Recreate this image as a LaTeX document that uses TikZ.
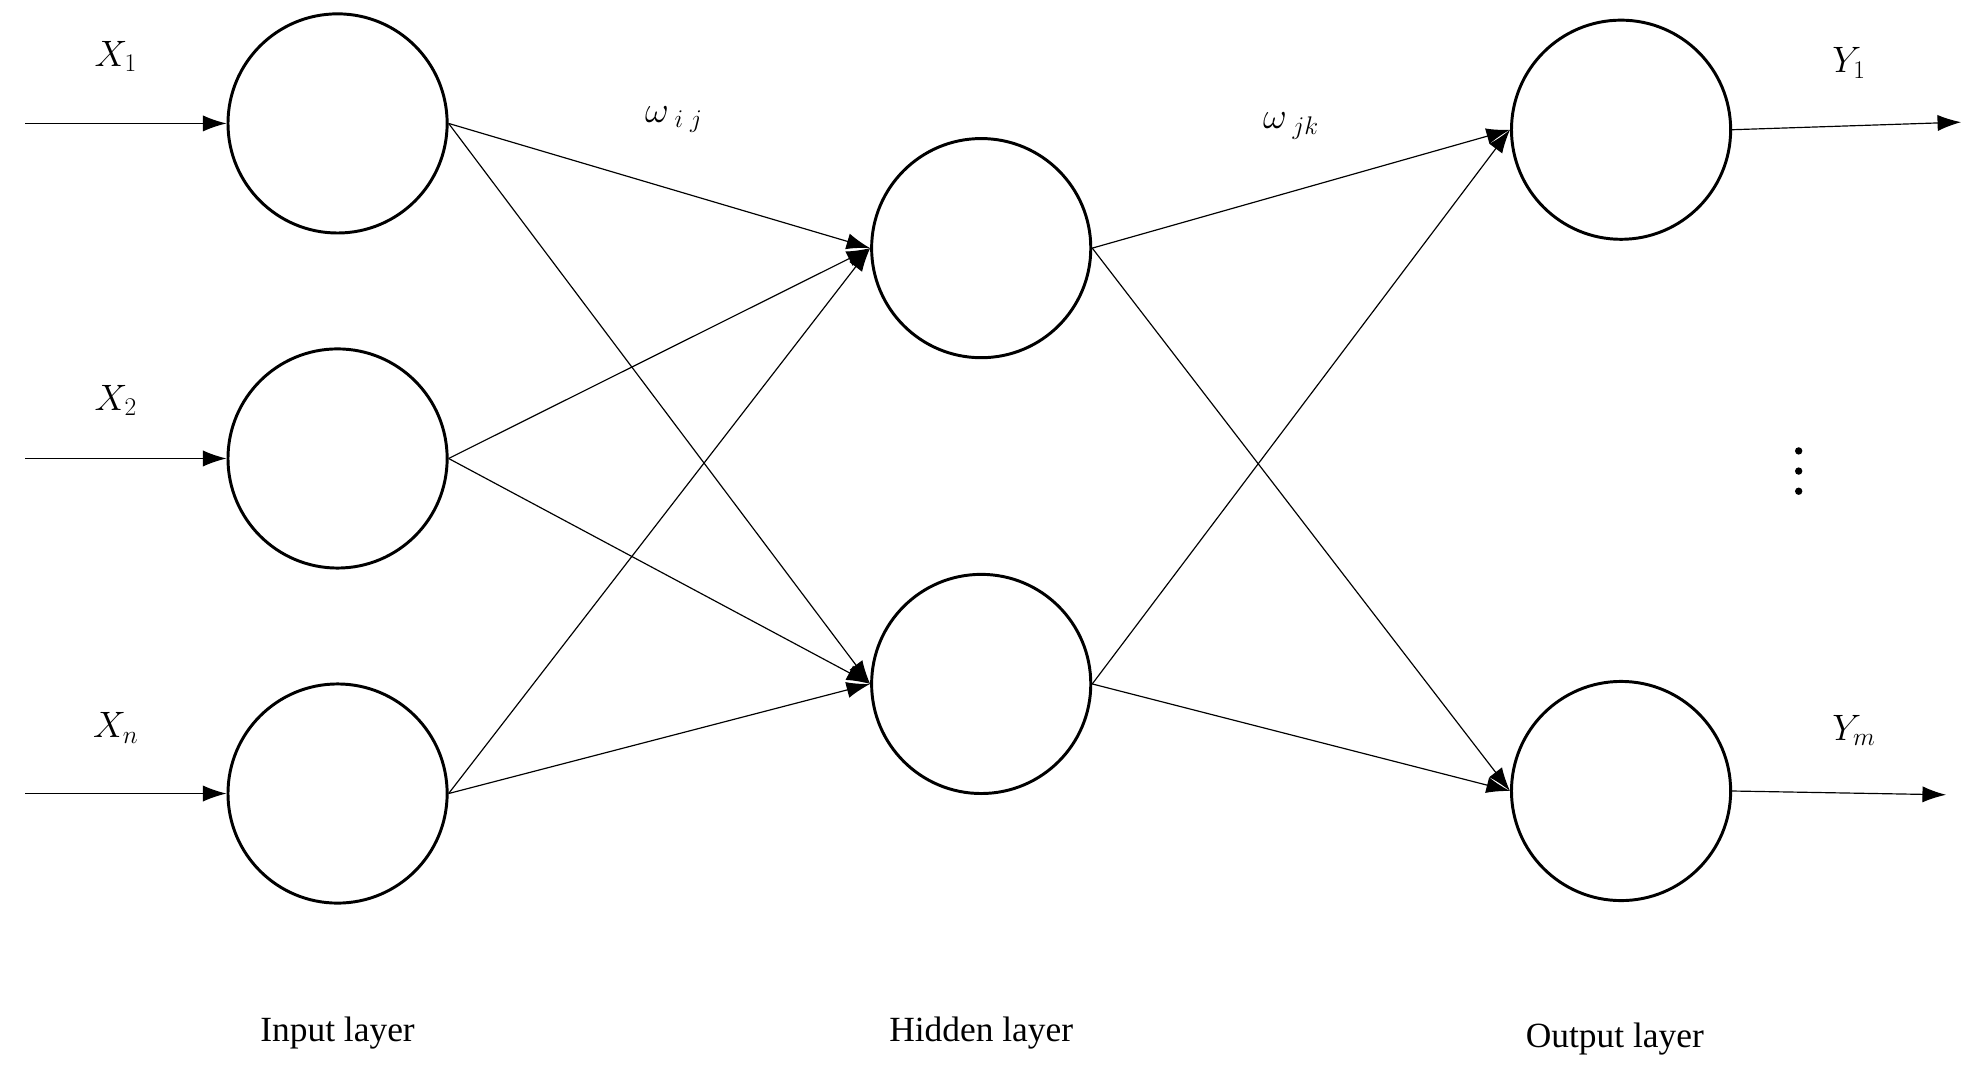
\documentclass[tikz,border=0pt]{standalone}
\usepackage{fontspec}
\setmainfont{Liberation Serif}
\usetikzlibrary{arrows.meta}
\begin{document}
\begin{tikzpicture}[x=0.03cm,y=-0.03cm,
  neuron/.style={circle,draw,line width=2pt,minimum size=174*0.03cm,inner sep=0},
  conn/.style={line width=0.8pt,-{Latex[length=16pt,width=11pt]}},
  lbl/.style={font=\fontsize{24}{28}\selectfont},
  var/.style={font=\fontsize{26}{30}\selectfont},
  dot/.style={circle,fill,inner sep=0,minimum size=5pt}]
\useasboundingbox (0,0) rectangle (1568,853);
\node[neuron] (i1) at (268,98) {};
\node[neuron] (i2) at (268,364) {};
\node[neuron] (i3) at (268,630) {};
\node[neuron] (h1) at (779,197) {};
\node[neuron] (h2) at (779,543) {};
\node[neuron] (o1) at (1287,103) {};
\node[neuron] (o2) at (1287,628) {};
\coordinate (s1) at (20,98);
\coordinate (s2) at (20,364);
\coordinate (s3) at (20,630);
\coordinate (e1) at (1557,97);
\coordinate (e2) at (1545,631);
\draw[conn] (s1) -- (i1.west);
\draw[conn] (s2) -- (i2.west);
\draw[conn] (s3) -- (i3.west);
\foreach \a in {i1,i2,i3}{\foreach \b in {h1,h2}{\draw[conn] (\a.east) -- (\b.west);}}
\foreach \a in {h1,h2}{\foreach \b in {o1,o2}{\draw[conn] (\a.east) -- (\b.west);}}
\draw[conn] (o1.east) -- (e1);
\draw[conn] (o2.east) -- (e2);
\node[var] (x1) at (92,45) {$X_{\scriptstyle 1}$};
\node[var] (x2) at (92,318) {$X_{\scriptstyle 2}$};
\node[var] (xn) at (92,578) {$X_{\scriptstyle n}$};
\node[var] (y1) at (1468,50) {$Y_{\scriptstyle 1}$};
\node[var] (ym) at (1472,580) {$Y_{\scriptstyle m}$};
\node[var] (wij) at (535,95) {$\omega_{\;i\;j}$};
\node[var] (wjk) at (1025,100) {$\omega_{\;jk}$};
\node[dot] (d1) at (1428,358) {};
\node[dot] (d2) at (1428,374) {};
\node[dot] (d3) at (1428,390) {};
\node[lbl] (l1) at (268,820) {Input layer};
\node[lbl] (l2) at (779,820) {Hidden layer};
\node[lbl] (l3) at (1282,825) {Output layer};
\end{tikzpicture}
\end{document}
